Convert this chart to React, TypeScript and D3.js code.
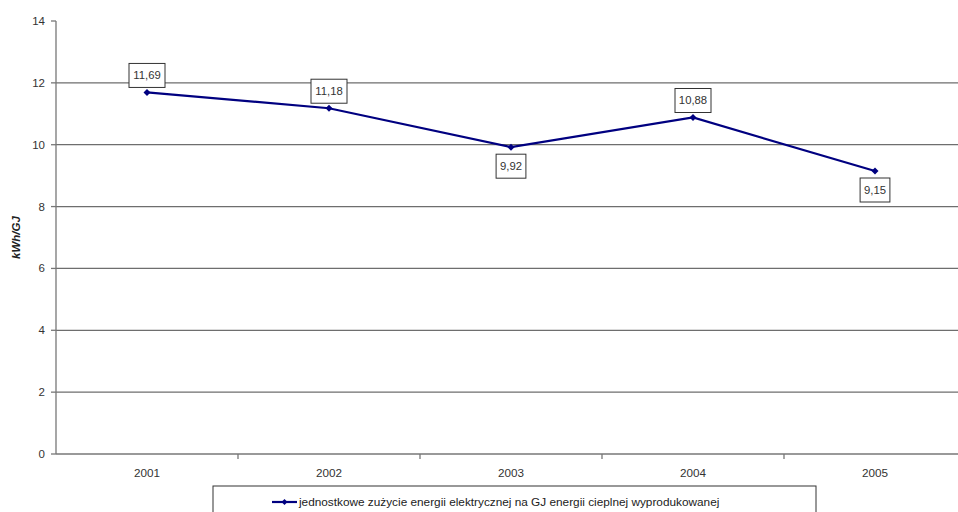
import React from "react";
import * as d3 from "d3";

const years = ["2001", "2002", "2003", "2004", "2005"];
const values = [11.69, 11.18, 9.92, 10.88, 9.15];
const labelAbove = [true, true, false, true, false];
const yTicks = [0, 2, 4, 6, 8, 10, 12, 14];
const seriesName =
  "jednostkowe zużycie energii elektrycznej na GJ energii cieplnej wyprodukowanej";
const yTitle = "kWh/GJ";

const W = 958;
const H = 512;
const margin = { left: 56, top: 21, right: -8, bottom: 58 };
const FONT = "'Liberation Sans', Arial, sans-serif";
const NAVY = "#000080";

export default function App() {
  const x = d3
    .scaleBand<string>()
    .domain(years)
    .range([margin.left, W - margin.right]);
  const y = d3
    .scaleLinear()
    .domain([0, 14])
    .range([H - margin.bottom, margin.top]);

  const cx = (i: number) => (x(years[i]) as number) + x.bandwidth() / 2;
  const line = d3
    .line<number>()
    .x((_, i) => cx(i))
    .y((d) => y(d));

  const x0 = margin.left;
  const x1 = W - margin.right;
  const yBase = y(0);

  const fmt = (v: number) => v.toFixed(2).replace(".", ",");

  return (
    <svg
      width={W}
      height={H}
      style={{ position: "absolute", left: 0, top: 0, background: "#fff" }}
      fontFamily={FONT}
    >
      {/* horizontal gridlines */}
      {yTicks
        .filter((t) => t > 0 && t < 14)
        .map((t) => (
          <line
            key={"g" + t}
            x1={x0}
            x2={x1}
            y1={y(t)}
            y2={y(t)}
            stroke="#6e6e6e"
            strokeWidth={1.3}
          />
        ))}
      {/* y axis */}
      <line x1={x0} x2={x0} y1={y(14)} y2={yBase} stroke="#777" strokeWidth={1.3} />
      {yTicks.map((t) => (
        <g key={"t" + t}>
          <line x1={x0 - 5} x2={x0} y1={y(t)} y2={y(t)} stroke="#777" strokeWidth={1.3} />
          <text
            x={x0 - 11}
            y={y(t)}
            dy="0.35em"
            textAnchor="end"
            fontSize={11.5}
            fill="#333"
          >
            {t}
          </text>
        </g>
      ))}
      {/* x axis */}
      <line x1={x0} x2={x1} y1={yBase} y2={yBase} stroke="#777" strokeWidth={1.3} />
      {years.map((yr, i) => (
        <g key={yr}>
          {i > 0 && (
            <line
              x1={x(yr) as number}
              x2={x(yr) as number}
              y1={yBase}
              y2={yBase + 5}
              stroke="#777"
              strokeWidth={1.3}
            />
          )}
          <text x={cx(i)} y={yBase + 23} textAnchor="middle" fontSize={11.7} fill="#333">
            {yr}
          </text>
        </g>
      ))}
      {/* y title */}
      <text
        transform={`translate(20,${(y(14) + yBase) / 2}) rotate(-90)`}
        textAnchor="middle"
        fontSize={11.5}
        fontWeight="bold"
        fontStyle="italic"
        fill="#222"
      >
        {yTitle}
      </text>
      {/* series */}
      <path d={line(values) || ""} fill="none" stroke={NAVY} strokeWidth={2.2} />
      {values.map((v, i) => (
        <path
          key={"m" + i}
          transform={`translate(${cx(i)},${y(v)})`}
          d="M0,-3.5L3.5,0L0,3.5L-3.5,0Z"
          fill={NAVY}
        />
      ))}
      {/* data labels */}
      {values.map((v, i) => {
        const txt = fmt(v);
        const bw = txt.length * 6.2 + 5;
        const bh = 24;
        const top = labelAbove[i] ? y(v) - 5 - bh : y(v) + 7;
        return (
          <g key={"l" + i}>
            <rect
              x={cx(i) - bw / 2}
              y={top}
              width={bw}
              height={bh}
              fill="#fff"
              stroke="#333"
              strokeWidth={1}
            />
            <text
              x={cx(i)}
              y={top + bh / 2}
              dy="0.35em"
              textAnchor="middle"
              fontSize={11.3}
              fill="#333"
            >
              {txt}
            </text>
          </g>
        );
      })}
      {/* legend */}
      <rect x={213} y={486} width={603} height={40} fill="#fff" stroke="#333" strokeWidth={1} />
      <line x1={272} x2={297} y1={502} y2={502} stroke={NAVY} strokeWidth={2.2} />
      <path transform="translate(284.5,502)" d="M0,-3L3,0L0,3L-3,0Z" fill={NAVY} />
      <text x={299} y={502} dy="0.35em" fontSize={11.8} fill="#222">
        {seriesName}
      </text>
    </svg>
  );
}
